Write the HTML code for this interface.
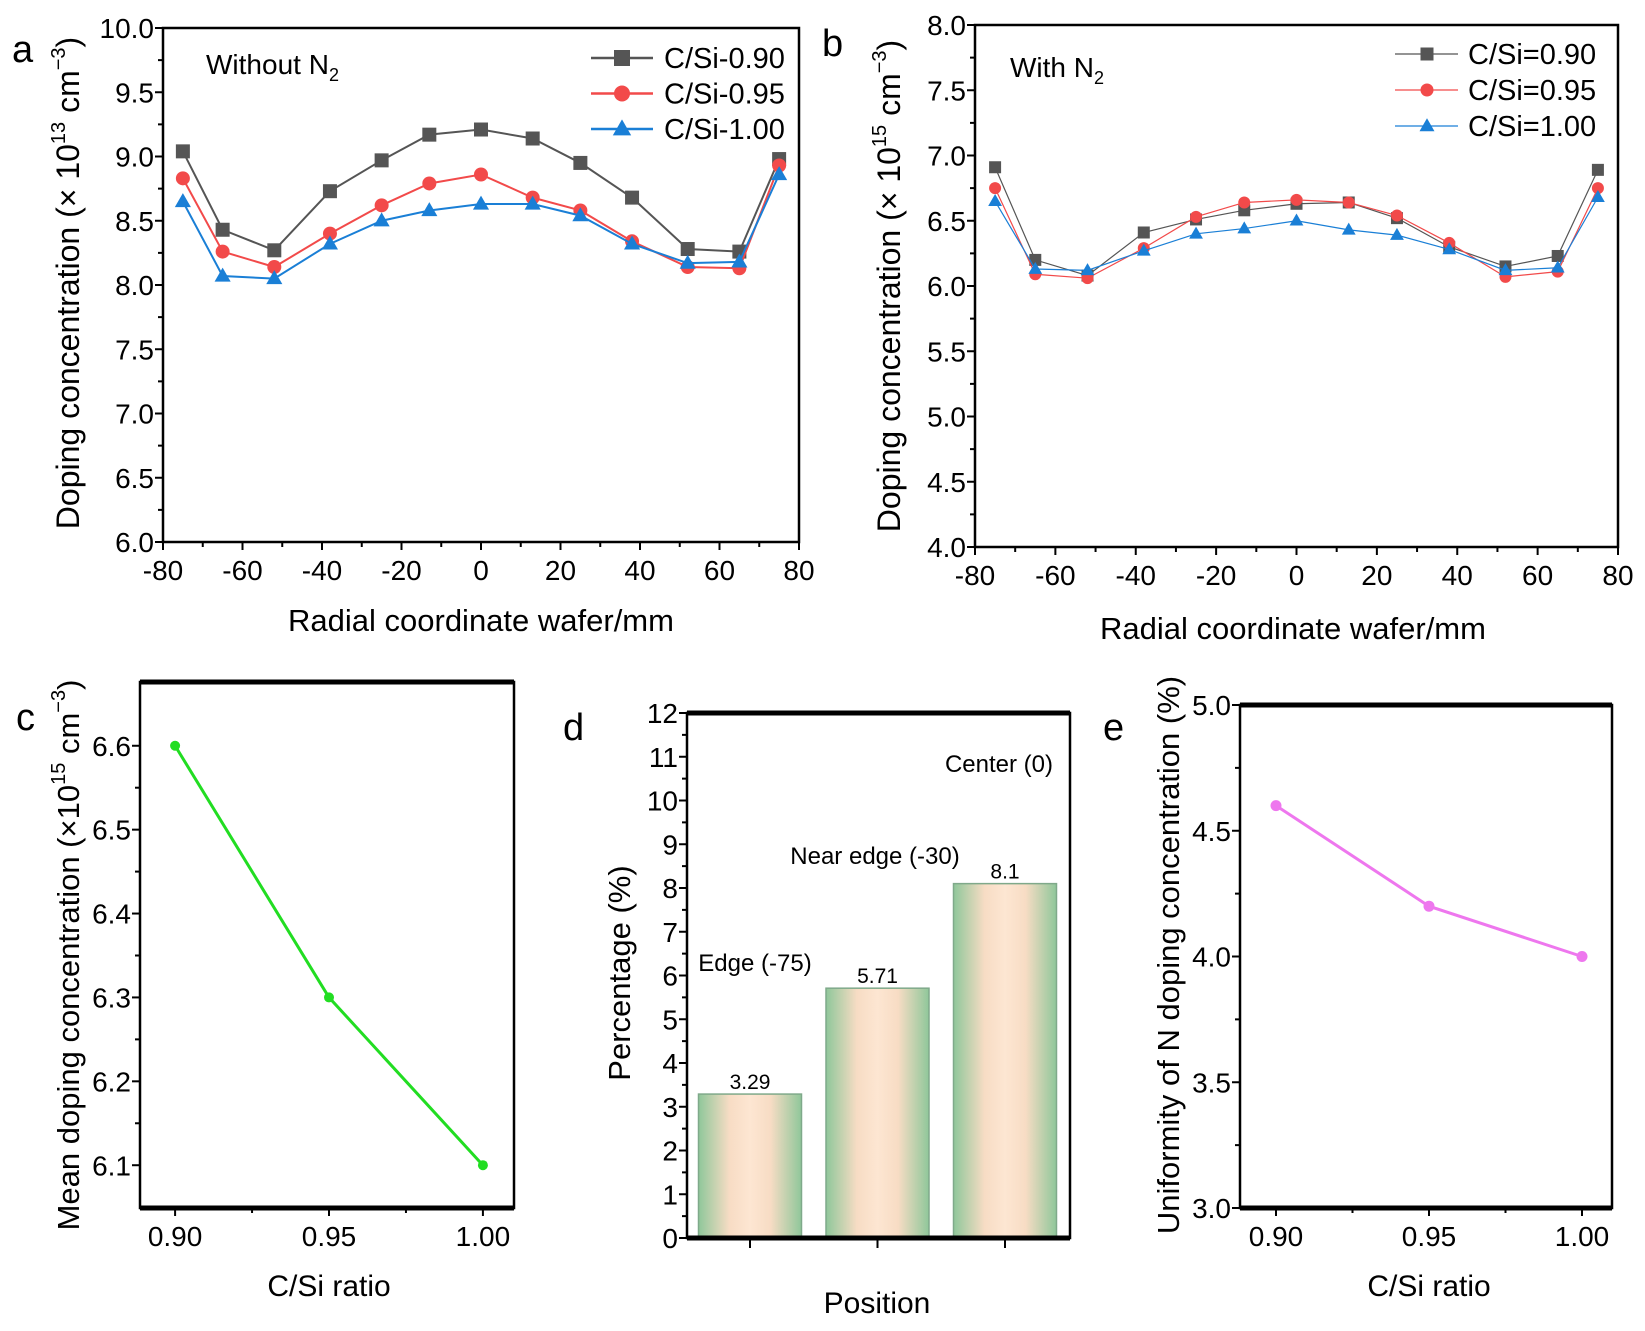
<!DOCTYPE html>
<html><head><meta charset="utf-8">
<style>
html,body{margin:0;padding:0;background:#fff;}
svg{display:block;font-family:"Liberation Sans",Arial,sans-serif;}
</style></head>
<body>
<svg id="fig" width="1645" height="1331" viewBox="0 0 1645 1331" xmlns="http://www.w3.org/2000/svg">
<defs>
<linearGradient id="barGrad" x1="0" x2="1" y1="0" y2="0">
<stop offset="0" stop-color="#8fc79a"/>
<stop offset="0.3" stop-color="#f7dcc4"/>
<stop offset="0.5" stop-color="#fde6d2"/>
<stop offset="0.7" stop-color="#f7dcc4"/>
<stop offset="1" stop-color="#8fc79a"/>
</linearGradient>
</defs>
</svg>
<script>
// ---- data ----
const radialX = [-75,-65,-52,-38,-25,-13,0,13,25,38,52,65,75];
const aGray = [9.04,8.43,8.27,8.73,8.97,9.17,9.21,9.14,8.95,8.68,8.28,8.26,8.98];
const aRed  = [8.83,8.26,8.14,8.40,8.62,8.79,8.86,8.68,8.58,8.34,8.14,8.13,8.93];
const aBlue = [8.65,8.07,8.05,8.32,8.50,8.58,8.63,8.63,8.54,8.32,8.17,8.18,8.86];
const bGray = [6.91,6.20,6.08,6.41,6.51,6.58,6.63,6.64,6.52,6.30,6.15,6.23,6.89];
const bRed  = [6.75,6.09,6.06,6.29,6.53,6.64,6.66,6.64,6.54,6.33,6.07,6.11,6.75];
const bBlue = [6.65,6.13,6.12,6.27,6.40,6.44,6.50,6.43,6.39,6.28,6.12,6.14,6.68];
const aLegend = ["C/Si-0.90","C/Si-0.95","C/Si-1.00"];
const bLegend = ["C/Si=0.90","C/Si=0.95","C/Si=1.00"];
const radialTicks = [-80,-60,-40,-20,0,20,40,60,80];
const aYTicks = [6.0,6.5,7.0,7.5,8.0,8.5,9.0,9.5,10.0];
const bYTicks = [4.0,4.5,5.0,5.5,6.0,6.5,7.0,7.5,8.0];
const ratioX = [0.90,0.95,1.00];
const cMean = [6.6,6.3,6.1];
const cYTicks = [6.1,6.2,6.3,6.4,6.5,6.6];
const eUnif = [4.6,4.2,4.0];
const eYTicks = [3.0,3.5,4.0,4.5,5.0];
const dCats = ["Edge (-75)","Near edge (-30)","Center (0)"];
const dVals = [3.29,5.71,8.1];
const dLabels = ["3.29","5.71","8.1"];
const dYTicks = [0,1,2,3,4,5,6,7,8,9,10,11,12];

const NS="http://www.w3.org/2000/svg";
const svg=document.getElementById('fig');
function mk(tag,attrs,parent,text){const e=document.createElementNS(NS,tag);for(const k in attrs)e.setAttribute(k,attrs[k]);if(text!==undefined)e.textContent=text;(parent||svg).appendChild(e);return e;}
function scale(d0,d1,r0,r1){return v=>r0+(v-d0)*(r1-r0)/(d1-d0);}

function frame(g,L,R,T,B,thickTB){
  const r=mk('rect',{x:L,y:T,width:R-L,height:B-T,fill:'none',stroke:'#000','stroke-width':2.5},g);
  
  if(thickTB){mk('line',{x1:L,x2:R,y1:T,y2:T,stroke:'#000','stroke-width':5},g);mk('line',{x1:L,x2:R,y1:B,y2:B,stroke:'#000','stroke-width':5},g);}
}
function yAxis(g,L,ticks,ys,fmt,fs){
  const ax=mk('g',{},g);
  
  ticks.forEach((t,i)=>{const y=ys(t);mk('line',{x1:L-8,x2:L,y1:y,y2:y,stroke:'#000','stroke-width':2},ax);
    const tx=mk('text',{x:L-9,y:y+fs*0.36,'text-anchor':'end','font-size':fs},ax,fmt(t));
    
    if(i<ticks.length-1){const m=ys((t+ticks[i+1])/2);mk('line',{x1:L-5,x2:L,y1:m,y2:m,stroke:'#000','stroke-width':2},ax);}
  });
}
function xAxis(g,B,ticks,xs,fmt,fs){
  const ax=mk('g',{},g);
  
  ticks.forEach((t,i)=>{const x=xs(t);mk('line',{x1:x,x2:x,y1:B,y2:B+8,stroke:'#000','stroke-width':2},ax);
    const tx=mk('text',{x:x,y:B+fs+10,'text-anchor':'middle','font-size':fs},ax,fmt(t));
    
    if(i<ticks.length-1){const m=xs((t+ticks[i+1])/2);mk('line',{x1:m,x2:m,y1:B,y2:B+5,stroke:'#000','stroke-width':2},ax);}
  });
}
function marker(g,type,x,y,col,s){
  let e;
  if(type==='sq')e=mk('rect',{x:x-s,y:y-s,width:2*s,height:2*s,fill:col},g);
  else if(type==='ci')e=mk('circle',{cx:x,cy:y,r:s,fill:col},g);
  else e=mk('polygon',{points:`${x},${y-s*1.2} ${x-s*1.15},${y+s*0.8} ${x+s*1.15},${y+s*0.8}`,fill:col},g);
  
}
function series(g,xsArr,vals,xs,ys,col,type,s,lw,name){
  const sg=mk('g',{},g);
  
  mk('polyline',{points:vals.map((v,i)=>xs(xsArr[i])+','+ys(v)).join(' '),fill:'none',stroke:col,'stroke-width':lw},sg);
  vals.forEach((v,i)=>marker(sg,type,xs(xsArr[i]),ys(v),col,s));
}
function label(txt,x,y,fs,name,extra){const t=mk('text',Object.assign({x:x,y:y,'font-size':fs},extra||{}),svg,txt);return t;}
function rotTitle(html,x,y,fs,name){const t=mk('text',{x:0,y:0,'font-size':fs,'text-anchor':'middle',transform:`translate(${x},${y}) rotate(-90)`});t.innerHTML=html;return t;}

const cols=['#555555','#f24a4a','#1a7fd6'],types=['sq','ci','tr'];
const TF=28;

// ---- panel a ----
(function(){
  const L=163,R=799,T=28,B=542;
  const g=mk('g',{});
  const xs=scale(-80,80,L,R),ys=scale(6,10,B,T);
  [aGray,aRed,aBlue].forEach((d,k)=>series(g,radialX,d,xs,ys,cols[k],types[k],7,2,'series-a-'+k));
  frame(g,L,R,T,B,false);
  yAxis(g,L,aYTicks,ys,v=>v.toFixed(1),TF);
  xAxis(g,B,radialTicks,xs,v=>String(v),TF);
  aLegend.forEach((t,k)=>{const y=58+k*35.5;mk('line',{x1:591,x2:653,y1:y,y2:y,stroke:cols[k],'stroke-width':2.5},g);marker(g,types[k],622,y,cols[k],8);
    const tx=mk('text',{x:664,y:y+10,'font-size':29},g,t);});
  const w=label('',206,74,28,'annotation-without-n2');w.innerHTML='Without N<tspan font-size="18" dy="7">2</tspan>';
})();
label('a',12,62,38,'panel-label-a');
rotTitle('Doping concentration (× 10<tspan font-size="20" dy="-14">13</tspan><tspan dy="14"> cm</tspan><tspan font-size="20" dy="-14">−3</tspan><tspan dy="14">)</tspan>',79,283,32,'y-axis-title-a');
label('Radial coordinate wafer/mm',481,631,31,'x-axis-title-a',{'text-anchor':'middle'});

// ---- panel b ----
(function(){
  const L=975,R=1618,T=25,B=547;
  const g=mk('g',{});
  const xs=scale(-80,80,L,R),ys=scale(4,8,B,T);
  [bGray,bRed,bBlue].forEach((d,k)=>series(g,radialX,d,xs,ys,cols[k],types[k],6,1.2,'series-b-'+k));
  frame(g,L,R,T,B,false);
  yAxis(g,L,bYTicks,ys,v=>v.toFixed(1),TF);
  xAxis(g,B,radialTicks,xs,v=>String(v),TF);
  bLegend.forEach((t,k)=>{const y=54+k*36;mk('line',{x1:1395,x2:1458,y1:y,y2:y,stroke:cols[k],'stroke-width':1.2},g);marker(g,types[k],1427,y,cols[k],6.5);
    const tx=mk('text',{x:1468,y:y+10,'font-size':29},g,t);});
  const w=label('',1010,77,28,'annotation-with-n2');w.innerHTML='With N<tspan font-size="18" dy="7">2</tspan>';
})();
label('b',822,56,38,'panel-label-b');
rotTitle('Doping concentration (× 10<tspan font-size="20" dy="-14">15</tspan><tspan dy="14"> cm</tspan><tspan font-size="20" dy="-14">−3</tspan><tspan dy="14">)</tspan>',900,286,32,'y-axis-title-b');
label('Radial coordinate wafer/mm',1293,639,31,'x-axis-title-b',{'text-anchor':'middle'});

// ---- panel c ----
(function(){
  const L=140,R=514,T=682,B=1208;
  const g=mk('g',{});
  const xs=scale(0.8886,1.0101,L,R),ys=scale(6.049,6.676,B,T);
  series(g,ratioX,cMean,xs,ys,'#22dd22','ci',5,3,'series-c-mean');
  frame(g,L,R,T,B,true);
  yAxis(g,L,cYTicks,ys,v=>v.toFixed(1),TF);
  xAxis(g,B,ratioX,xs,v=>v.toFixed(2),TF);
})();
label('c',16,730,38,'panel-label-c');
rotTitle('Mean doping concentration (×10<tspan font-size="20" dy="-14">15</tspan><tspan dy="14"> cm</tspan><tspan font-size="20" dy="-14">−3</tspan><tspan dy="14">)</tspan>',79,955,31,'y-axis-title-c');
label('C/Si ratio',329,1296,30,'x-axis-title-c',{'text-anchor':'middle'});

// ---- panel d ----
(function(){
  const L=687,R=1070,T=713,B=1238;
  const g=mk('g',{});
  const ys=scale(0,12,B,T);
  const xs=i=>750+i*127.5;
  dVals.forEach((v,i)=>{const b=mk('rect',{x:xs(i)-51.5,y:ys(v),width:103,height:B-ys(v),fill:'url(#barGrad)',stroke:'#7fa98a','stroke-width':1.5},g);
    
    const t=mk('text',{x:xs(i),y:ys(v)-5,'text-anchor':'middle','font-size':21},g,dLabels[i]);
    mk('line',{x1:xs(i),x2:xs(i),y1:B,y2:B+10,stroke:'#000','stroke-width':2},g);
  });
  frame(g,L,R,T,B,true);
  yAxis(g,L,dYTicks,ys,v=>String(v),TF);
  const pos=[[755,971],[875,864],[999,772]];
  dCats.forEach((c,i)=>{const t=mk('text',{x:pos[i][0],y:pos[i][1],'text-anchor':'middle','font-size':24},g,c);});
})();
label('d',563,740,38,'panel-label-d');
rotTitle('Percentage (%)',630,973,31,'y-axis-title-d');
label('Position',877,1313,30,'x-axis-title-d',{'text-anchor':'middle'});

// ---- panel e ----
(function(){
  const L=1240,R=1612,T=705,B=1208;
  const g=mk('g',{});
  const xs=scale(0.90,1.00,1276,1582),ys=scale(3,5,B,T);
  series(g,ratioX,eUnif,xs,ys,'#ee77ee','ci',5.5,3,'series-e-uniformity');
  frame(g,L,R,T,B,true);
  yAxis(g,L,eYTicks,ys,v=>v.toFixed(1),TF);
  xAxis(g,B,ratioX,xs,v=>v.toFixed(2),TF);
})();
label('e',1103,740,38,'panel-label-e');
rotTitle('Uniformity of N doping concentration (%)',1179,955,31,'y-axis-title-e');
label('C/Si ratio',1429,1296,30,'x-axis-title-e',{'text-anchor':'middle'});
</script>
</body></html>
